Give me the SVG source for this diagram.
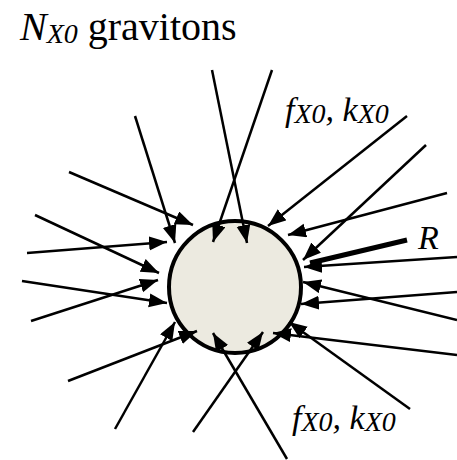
<svg xmlns="http://www.w3.org/2000/svg" width="457" height="460" viewBox="0 0 457 460">
<defs>
<style>
.ray{stroke:#000;stroke-width:2.5;fill:none}
.t{font-family:"Liberation Serif","Times New Roman",Times,serif}
</style>
<marker id="ah" markerUnits="userSpaceOnUse" markerWidth="19" markerHeight="15" refX="18" refY="7" orient="auto">
<path d="M0,0 L18,7 L0,14 z" fill="#000"/>
</marker>
</defs>
<rect width="457" height="460" fill="#fff"/>
<g id="body">
<circle cx="235" cy="287" r="66" fill="#ECEAE0" stroke="#000" stroke-width="4"/>
</g>
<g id="connectors">
<line class="ray" x1="212" y1="70" x2="247" y2="243" marker-end="url(#ah)"/>
<line class="ray" x1="272" y1="70" x2="213" y2="242" marker-end="url(#ah)"/>
<line class="ray" x1="135" y1="116" x2="175" y2="243" marker-end="url(#ah)"/>
<line class="ray" x1="69" y1="172" x2="193" y2="225" marker-end="url(#ah)"/>
<line class="ray" x1="407" y1="116" x2="268" y2="226" marker-end="url(#ah)"/>
<line class="ray" x1="426" y1="145" x2="303" y2="260" marker-end="url(#ah)"/>
<line class="ray" x1="447" y1="193" x2="288" y2="235" marker-end="url(#ah)"/>
<line class="ray" x1="35" y1="215" x2="159" y2="273" marker-end="url(#ah)"/>
<line class="ray" x1="27" y1="253" x2="167" y2="242" marker-end="url(#ah)"/>
<line class="ray" x1="22" y1="281" x2="167" y2="303" marker-end="url(#ah)"/>
<line class="ray" x1="31" y1="321" x2="158" y2="280" marker-end="url(#ah)"/>
<line class="ray" x1="68" y1="381" x2="197" y2="331" marker-end="url(#ah)"/>
<line class="ray" x1="115" y1="429" x2="175" y2="322" marker-end="url(#ah)"/>
<line class="ray" x1="193" y1="432" x2="263" y2="332" marker-end="url(#ah)"/>
<line class="ray" x1="287" y1="459" x2="213" y2="333" marker-end="url(#ah)"/>
<line class="ray" x1="410" y1="409" x2="289" y2="322" marker-end="url(#ah)"/>
<line class="ray" x1="457" y1="355" x2="273" y2="333" marker-end="url(#ah)"/>
<line class="ray" x1="457" y1="320" x2="303" y2="282" marker-end="url(#ah)"/>
<line class="ray" x1="457" y1="292" x2="301" y2="304" marker-end="url(#ah)"/>
<line class="ray" x1="457" y1="257" x2="304" y2="267" marker-end="url(#ah)"/>
<line x1="407" y1="240" x2="310" y2="263" stroke="#000" stroke-width="5"/>
</g>
<g id="title">
<text class="t" x="20" y="40" font-size="40"><tspan font-style="italic">N</tspan><tspan font-style="italic" font-size="28" dy="3">X0</tspan><tspan dy="-3"> gravitons</tspan></text>
</g>
<g id="label-top">
<text class="t" x="285" y="121" font-style="italic" font-size="34">f<tspan font-size="28" dy="2">X0</tspan><tspan dy="-2">, k</tspan><tspan font-size="28" dy="2">X0</tspan></text>
</g>
<g id="label-bottom">
<text class="t" x="292" y="429" font-style="italic" font-size="34">f<tspan font-size="28" dy="2">X0</tspan><tspan dy="-2">, k</tspan><tspan font-size="28" dy="2">X0</tspan></text>
</g>
<g id="label-R">
<text class="t" x="418" y="249" font-style="italic" font-size="34">R</text>
</g>
</svg>
